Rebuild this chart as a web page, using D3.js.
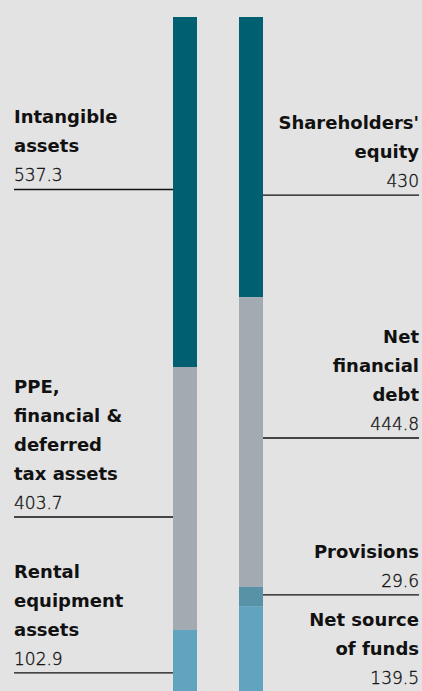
<!DOCTYPE html>
<html><head><meta charset="utf-8">
<script src="https://cdn.jsdelivr.net/npm/d3@7"></script>
<style>
html,body{margin:0;padding:0;background:#e3e3e3;overflow:hidden;}
svg{display:block;}
</style></head>
<body><svg id="chart" width="422" height="691"></svg>
<script>
// ---- data ----
const stacks = ["Assets", "Liabilities"];
const assetLabels = [["Intangible","assets"], ["PPE,","financial &","deferred","tax assets"], ["Rental","equipment","assets"]];
const assetValues = [537.3, 403.7, 102.9];
const liabLabels = [["Shareholders'","equity"], ["Net","financial","debt"], ["Provisions"], ["Net source","of funds"]];
const liabValues = [430, 444.8, 29.6, 139.5];
const assetColors = ["#005f70", "#a3aab1", "#62a3bf"];
const liabColors = ["#005f70", "#a3aab1", "#5792a7", "#62a3bf"];
// leader line positions (data units from top of stack) for annotations
const assetLeaders = [264.8, 767.6, 1007];
const liabLeaders = [273.3, 646.3, 887.2, null];

// ---- layout ----
const W = 422, H = 691;
const svg = d3.select("#chart");
svg.append("rect").attr("width", W).attr("height", H).attr("fill", "#e3e3e3");

const total = d3.sum(assetValues);
const y = d3.scaleLinear().domain([0, total]).range([17, 17 + total * 0.6514]);
const x = d3.scaleBand().domain(stacks).range([173, 263]).paddingInner(42/66).paddingOuter(0);

function stackData(vals){
  let c = 0;
  return vals.map(v => { const s = c; c += v; return {start: s, end: c, v}; });
}
const A = stackData(assetValues), L = stackData(liabValues);

const g = svg.append("g");
g.selectAll("rect.a").data(A).join("rect")
  .attr("x", x("Assets")).attr("width", x.bandwidth())
  .attr("y", d => y(d.start)).attr("height", d => y(d.end) - y(d.start))
  .attr("fill", (d,i) => assetColors[i]);
g.selectAll("rect.l").data(L).join("rect")
  .attr("x", x("Liabilities")).attr("width", x.bandwidth())
  .attr("y", d => y(d.start)).attr("height", d => y(d.end) - y(d.start))
  .attr("fill", (d,i) => liabColors[i]);

const LH = 29;
const boldFont = "'DejaVu Sans', sans-serif";
const lightFont = "'DejaVu Sans', sans-serif";
function annotate(labels, values, leaders, side){
  labels.forEach((lines, i) => {
    let lineY = leaders[i] == null ? y(total) - 5 : y(leaders[i]);
    const valBase = leaders[i] == null ? 684 : lineY - 8;
    const tx = side === "left" ? 14 : 419;
    const anchor = side === "left" ? "start" : "end";
    const t = svg.append("text").attr("text-anchor", anchor).attr("fill", "#111");
    lines.forEach((ln, j) => {
      t.append("tspan").attr("x", tx)
        .attr("y", valBase - (lines.length - j) * LH)
        .attr("font-family", boldFont)
        .attr("font-weight", 700).attr("font-size", 18).text(ln);
    });
    t.append("tspan").attr("x", tx).attr("y", valBase)
      .attr("font-family", lightFont)
      .attr("stroke", "#111").attr("stroke-width", 0.35)
      .attr("font-weight", 200).attr("font-size", 17).text(d3.format("")(values[i]));
    if (leaders[i] != null) {
      const x1 = side === "left" ? 14 : x("Liabilities") + x.bandwidth();
      const x2 = side === "left" ? x("Assets") : 419;
      svg.append("line").attr("x1", x1).attr("x2", x2)
        .attr("y1", lineY).attr("y2", lineY)
        .attr("stroke", "#111").attr("stroke-width", 1.3);
    }
  });
}
annotate(assetLabels, assetValues, assetLeaders, "left");
annotate(liabLabels, liabValues, liabLeaders, "right");
</script></body></html>
